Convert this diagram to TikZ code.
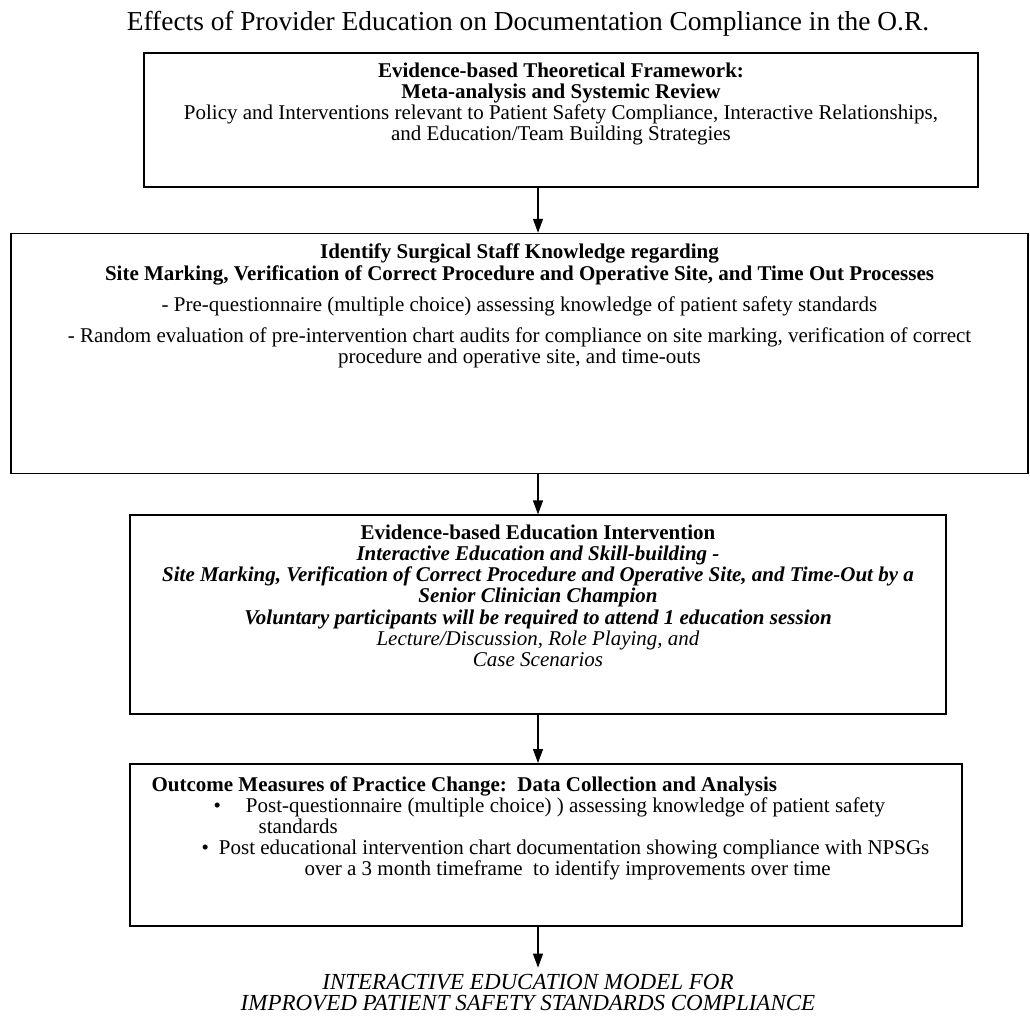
\documentclass[tikz,border=0pt]{standalone}
\usepackage{fontspec}
\setmainfont{Liberation Serif}
\usetikzlibrary{arrows.meta,positioning}
\tikzset{
  stage/.style={draw,line width=0.8pt,inner sep=0pt},
  stagetext/.style={inner sep=0pt,align=center,%
    font=\fontsize{10.5}{10.6}\selectfont},
  flow/.style={-{Triangle[length=7pt,width=5pt]},line width=0.6pt},
}

\begin{document}
\begin{tikzpicture}[x=0.5pt,y=-0.5pt]
\useasboundingbox (0,0) rectangle (1030,1018);
\node[font=\fontsize{13.7}{15}\selectfont] (title) at (528,24)
  {Effects of Provider Education on Documentation Compliance in the O.R.};
% the four stages
\node[stage,minimum width=417pt,minimum height=67pt] (frame) at (561,120) {};
\node[stage,minimum width=508.5pt,minimum height=120pt,below=22.5pt of frame,xshift=-20.75pt] (know) {};
\node[stage,minimum width=408pt,minimum height=99.5pt,below=20pt of know,xshift=9.25pt] (edu) {};
\node[stage,minimum width=416pt,minimum height=81pt,below=24pt of edu,xshift=4pt] (meas) {};
\node[stagetext,inner sep=3pt,font=\fontsize{11.5}{10.5}\selectfont\itshape,below=20.5pt of meas,xshift=-9pt] (model)
  {INTERACTIVE EDUCATION MODEL FOR\\IMPROVED PATIENT SAFETY STANDARDS COMPLIANCE};
% texts
\node[stagetext,below=5pt of frame.north] (frametxt)
  {\textbf{Evidence-based Theoretical Framework:}\\
   \textbf{Meta-analysis and Systemic Review}\\
   Policy and Interventions relevant to Patient Safety Compliance, Interactive Relationships,\\
   and Education/Team Building Strategies};
\node[stagetext,below=5.5pt of know.north] (knowtxt)
  {\textbf{Identify Surgical Staff Knowledge regarding}\\
   \textbf{Site Marking, Verification of Correct Procedure and Operative Site, and Time Out Processes}\\[5pt]
   - Pre-questionnaire (multiple choice) assessing knowledge of patient safety standards\\[5pt]
   - Random evaluation of pre-intervention chart audits for compliance on site marking, verification of correct\\
   procedure and operative site, and time-outs};
\node[stagetext,below=5pt of edu.north] (edutxt)
  {\textbf{Evidence-based Education Intervention}\\
   \textbf{\itshape Interactive Education and Skill-building -}\\
   \textbf{\itshape Site Marking, Verification of Correct Procedure and Operative Site, and Time-Out by a}\\
   \textbf{\itshape Senior Clinician Champion}\\
   \textbf{\itshape Voluntary participants will be required to attend 1 education session}\\
   \textit{Lecture/Discussion, Role Playing, and}\\
   \textit{Case Scenarios}};
\node[stagetext,align=left,anchor=north west] (meastxt) at ([xshift=11pt,yshift=-6.5pt]meas.north west)
  {\textbf{Outcome Measures of Practice Change:\ \ Data Collection and Analysis}\\
   \hspace*{31pt}\textbullet\hspace{12.5pt}Post-questionnaire (multiple choice) ) assessing knowledge of patient safety\\
   \hspace*{53.5pt}standards\\
   \hspace*{25pt}\textbullet\hspace{5pt}Post educational intervention chart documentation showing compliance with NPSGs\\
   \hspace*{76.5pt}over a 3 month timeframe\ \ to identify improvements over time};
% arrows
\draw[flow] (frame.south -| edu) -- (know.north -| edu);
\draw[flow] (know.south -| edu) -- (edu.north);
\draw[flow] (edu.south) -- (meas.north -| edu);
\draw[flow] (meas.south -| edu) -- (model.north -| edu);
\end{tikzpicture}
\end{document}
